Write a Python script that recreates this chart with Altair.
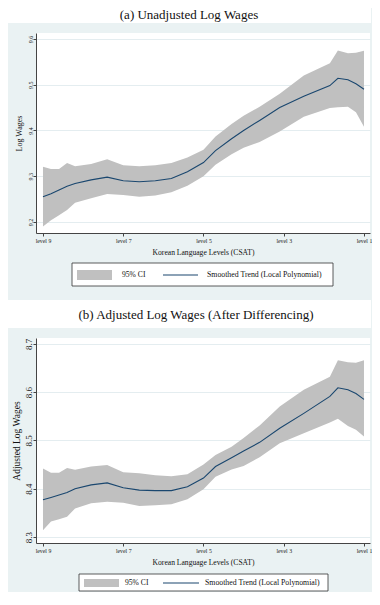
import altair as alt
import pandas as pd

# ---------------- data ----------------
levels = [9.0, 8.8, 8.6, 8.4, 8.2, 7.8, 7.4, 7.0, 6.6, 6.2, 5.8, 5.4, 5.0,
          4.7, 4.3, 4.0, 3.6, 3.1, 2.5, 1.85, 1.65, 1.4, 1.2, 1.0]

a_fit = [9.255, 9.262, 9.270, 9.278, 9.284, 9.292, 9.298, 9.290, 9.288, 9.290, 9.295, 9.310, 9.330,
         9.356, 9.382, 9.400, 9.422, 9.450, 9.475, 9.498, 9.514, 9.511, 9.502, 9.490]
a_hi = [9.321, 9.316, 9.316, 9.329, 9.322, 9.327, 9.337, 9.324, 9.322, 9.324, 9.329, 9.341, 9.358,
        9.387, 9.414, 9.432, 9.452, 9.480, 9.520, 9.547, 9.575, 9.569, 9.570, 9.574]
a_lo = [9.190, 9.204, 9.215, 9.226, 9.242, 9.252, 9.261, 9.259, 9.255, 9.258, 9.265, 9.279, 9.300,
        9.325, 9.348, 9.362, 9.375, 9.398, 9.430, 9.449, 9.451, 9.452, 9.440, 9.408]

b_fit = [8.377, 8.382, 8.387, 8.392, 8.400, 8.408, 8.412, 8.402, 8.397, 8.396, 8.396, 8.404, 8.422,
         8.446, 8.464, 8.478, 8.496, 8.525, 8.556, 8.591, 8.609, 8.605, 8.597, 8.585]
b_hi = [8.442, 8.433, 8.433, 8.443, 8.439, 8.446, 8.449, 8.434, 8.432, 8.428, 8.426, 8.430, 8.450,
        8.470, 8.487, 8.505, 8.531, 8.570, 8.605, 8.632, 8.666, 8.662, 8.661, 8.666]
b_lo = [8.314, 8.332, 8.337, 8.342, 8.359, 8.370, 8.373, 8.371, 8.364, 8.366, 8.368, 8.378, 8.399,
        8.425, 8.440, 8.447, 8.465, 8.494, 8.515, 8.537, 8.545, 8.530, 8.522, 8.508]

x_ticks = [9, 7, 5, 3, 1]
a_yticks = [9.2, 9.3, 9.4, 9.5, 9.6]
b_yticks = [8.3, 8.4, 8.5, 8.6, 8.7]

title_a = "(a) Unadjusted Log Wages"
title_b = "(b) Adjusted Log Wages (After Differencing)"
x_title = "Korean Language Levels (CSAT)"
ytitle_a = "Log Wages"
ytitle_b = "Adjusted Log Wages"
leg_ci = "95% CI"
leg_fit = "Smoothed Trend (Local Polynomial)"

# ---------------- styling ----------------
BG = "#eaf2f3"
BAND = "#c0c0c0"
LINE = "#1a476f"
SERIF = "Liberation Serif"
W = 334

one = pd.DataFrame({"k": [0]})


def panel(fit, lo, hi, H, ydom, yticks, ytitle, ylab_size, ylab_pad, ytitle_size, ytitle_x,
          strip_top, title, title_x, title_y, leg, bottom_fill=None):
    df = pd.DataFrame({"level": levels, "fit": fit, "lo": lo, "hi": hi})
    xs = alt.Scale(domain=[0.85, 9.174], reverse=True, nice=False, zero=False)
    ys = alt.Scale(domain=ydom, nice=False, zero=False)
    xax = alt.Axis(values=x_ticks, labelExpr="'level ' + datum.value", title=x_title,
                   grid=False, tickSize=3, labelPadding=1, labelFontSize=5.8,
                   labelFont=SERIF, labelColor="#222", titleFont=SERIF, titleFontSize=7.6,
                   titleFontWeight="normal", titleColor="#111", titleY=19, titleBaseline="middle",
                   domainColor="#444", tickColor="#444", labelFlush=False)
    yax = alt.Axis(values=yticks, format=".1f", title=ytitle, grid=True, gridColor="#e4edf0",
                   tickSize=3, labelPadding=ylab_pad, labelAngle=270, labelAlign="center",
                   labelBaseline="alphabetic", labelFontSize=ylab_size, labelFont=SERIF,
                   labelColor="#222", titleFont=SERIF, titleFontSize=ytitle_size,
                   titleFontWeight="normal", titleColor="#111", titleAngle=270,
                   titleX=ytitle_x, titleY=H / 2, titleBaseline="middle", titleAlign="center",
                   domainColor="#444", tickColor="#444")
    X = alt.X("level:Q", scale=xs, axis=xax)

    strip = alt.Chart(one).mark_rect(color="white").encode(
        x=alt.value(-28), x2=alt.value(W + 1), y=alt.value(strip_top), y2=alt.value(-10))
    ttl = alt.Chart(one).mark_text(text=title, font=SERIF, fontSize=13, color="#111",
                                   align="center", baseline="middle").encode(
        x=alt.value(title_x), y=alt.value(title_y))
    band = alt.Chart(df).mark_area(color=BAND, opacity=1).encode(
        x=X, y=alt.Y("lo:Q", scale=ys, axis=yax), y2="hi:Q")
    line = alt.Chart(df).mark_line(color=LINE, strokeWidth=1.1).encode(
        x=X, y=alt.Y("fit:Q", scale=ys, axis=yax))

    bx0, bx1, by0, by1, sx0, sx1, sy0, sy1, t1x, lx0, lx1, ly, t2x = leg
    box = alt.Chart(one).mark_rect(fill="white", stroke="#333", strokeWidth=0.8).encode(
        x=alt.value(bx0), x2=alt.value(bx1), y=alt.value(by0), y2=alt.value(by1))
    sw = alt.Chart(one).mark_rect(color=BAND).encode(
        x=alt.value(sx0), x2=alt.value(sx1), y=alt.value(sy0), y2=alt.value(sy1))
    t1 = alt.Chart(one).mark_text(text=leg_ci, font=SERIF, fontSize=7.6, color="#111",
                                  align="left", baseline="middle").encode(
        x=alt.value(t1x), y=alt.value(ly))
    ln = alt.Chart(one).mark_rule(color=LINE, strokeWidth=1.1).encode(
        x=alt.value(lx0), x2=alt.value(lx1), y=alt.value(ly))
    t2 = alt.Chart(one).mark_text(text=leg_fit, font=SERIF, fontSize=7.8, color="#111",
                                  align="left", baseline="middle").encode(
        x=alt.value(t2x), y=alt.value(ly))
    layers = [strip, ttl, band, line, box, sw, t1, ln, t2]
    if bottom_fill is not None:
        fill = alt.Chart(one).mark_rect(color=BG).encode(
            x=alt.value(0), x2=alt.value(10), y=alt.value(bottom_fill - 5), y2=alt.value(bottom_fill))
        layers.append(fill)
    return alt.layer(*layers).properties(width=W, height=H)


top = panel(a_fit, a_lo, a_hi, 200, [9.176, 9.613], a_yticks, ytitle_a, 6, 1, 8, -17,
            -25, title_a, 153, -18,
            (36, 297, 230, 253, 41, 76, 237, 247, 86, 127, 162, 242, 171))
bottom = panel(b_fit, b_lo, b_hi, 205, [8.2876, 8.712], b_yticks, ytitle_b, 9, 1.5, 9.5, -20,
               -38, title_b, 160, -23,
               (43, 292, 236, 253, 48, 83, 241, 249, 89, 127, 163, 245, 169), bottom_fill=254)

chart = alt.vconcat(top, bottom, spacing=105, bounds="flush").properties(
    background=BG, padding=0
).configure_view(fill="white", stroke=None)

chart.save("out.html", embed_options={"renderer": "svg", "actions": False})
